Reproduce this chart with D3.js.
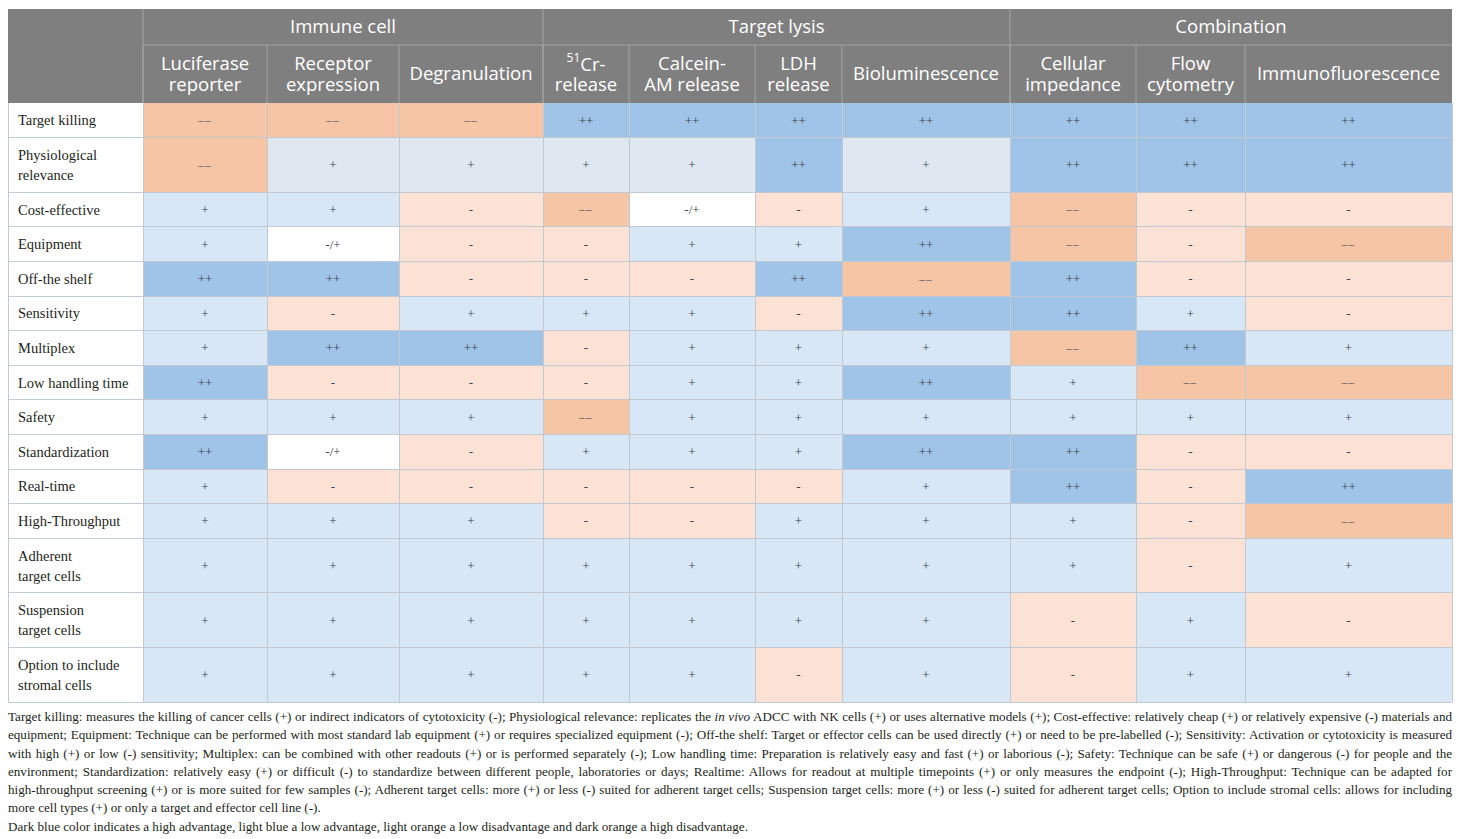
<!DOCTYPE html>
<html>
<head>
<meta charset="utf-8">
<script src="https://cdn.jsdelivr.net/npm/d3@7"></script>
<style>
    body { margin: 0; background: #fff; }
    #chart { position: relative; width: 1460px; height: 839px; overflow: hidden; }
    #note {
        position: absolute; left: 8px; top: 708px; width: 1444px;
        font-family: "Liberation Serif", "DejaVu Serif", serif;
        font-size: 13.1px; line-height: 18.3px; color: #231f20;
    }
    #note div { white-space: nowrap; }
    #note .j { text-align: justify; text-align-last: justify; }
</style>
</head>
<body>
<div id="chart"></div>
<script>
// ---- data ----
const groupNames = ['Immune cell', 'Target lysis', 'Combination'];
const groupSpans = [3, 4, 3];

const methods = [
    'Luciferase reporter', 'Receptor expression', 'Degranulation',
    '51Cr-release', 'Calcein-AM release', 'LDH release', 'Bioluminescence',
    'Cellular impedance', 'Flow cytometry', 'Immunofluorescence'
];
// header text as it wraps in the table ("^" marks the superscript)
const methodLines = [
    ['Luciferase', 'reporter'], ['Receptor', 'expression'], ['Degranulation'],
    ['^51Cr-', 'release'], ['Calcein-', 'AM release'], ['LDH', 'release'], ['Bioluminescence'],
    ['Cellular', 'impedance'], ['Flow', 'cytometry'], ['Immunofluorescence']
];

const criteria = [
    'Target killing', 'Physiological relevance', 'Cost-effective', 'Equipment',
    'Off-the shelf', 'Sensitivity', 'Multiplex', 'Low handling time', 'Safety',
    'Standardization', 'Real-time', 'High-Throughput', 'Adherent target cells',
    'Suspension target cells', 'Option to include stromal cells'
];
const criteriaLines = [
    ['Target killing'], ['Physiological', 'relevance'], ['Cost-effective'], ['Equipment'],
    ['Off-the shelf'], ['Sensitivity'], ['Multiplex'], ['Low handling time'], ['Safety'],
    ['Standardization'], ['Real-time'], ['High-Throughput'], ['Adherent', 'target cells'],
    ['Suspension', 'target cells'], ['Option to include', 'stromal cells']
];

// one row per criterion, one entry per method
const scores = [
    ['--', '--', '--', '++', '++', '++', '++', '++', '++', '++'],
    ['--', '+', '+', '+', '+', '++', '+', '++', '++', '++'],
    ['+', '+', '-', '--', '-/+', '-', '+', '--', '-', '-'],
    ['+', '-/+', '-', '-', '+', '+', '++', '--', '-', '--'],
    ['++', '++', '-', '-', '-', '++', '--', '++', '-', '-'],
    ['+', '-', '+', '+', '+', '-', '++', '++', '+', '-'],
    ['+', '++', '++', '-', '+', '+', '+', '--', '++', '+'],
    ['++', '-', '-', '-', '+', '+', '++', '+', '--', '--'],
    ['+', '+', '+', '--', '+', '+', '+', '+', '+', '+'],
    ['++', '-/+', '-', '+', '+', '+', '++', '++', '-', '-'],
    ['+', '-', '-', '-', '-', '-', '+', '++', '-', '++'],
    ['+', '+', '+', '-', '-', '+', '+', '+', '-', '--'],
    ['+', '+', '+', '+', '+', '+', '+', '+', '-', '+'],
    ['+', '+', '+', '+', '+', '+', '+', '-', '+', '-'],
    ['+', '+', '+', '+', '+', '-', '+', '-', '+', '+']
];

const levels = ['++', '+', '-/+', '-', '--'];
const levelColors = ['#9fc4e7', '#d8e7f6', '#ffffff', '#fbe2d5', '#f6c5a6'];

const footnoteLines = [
    'Target killing: measures the killing of cancer cells (+) or indirect indicators of cytotoxicity (-); Physiological relevance: replicates the <i>in vivo</i> ADCC with NK cells (+) or uses alternative models (+); Cost-effective: relatively cheap (+) or relatively expensive (-) materials and',
    'equipment; Equipment: Technique can be performed with most standard lab equipment (+) or requires specialized equipment (-); Off-the shelf: Target or effector cells can be used directly (+) or need to be pre-labelled (-); Sensitivity: Activation or cytotoxicity is measured',
    'with high (+) or low (-) sensitivity; Multiplex: can be combined with other readouts (+) or is performed separately (-); Low handling time: Preparation is relatively easy and fast (+) or laborious (-); Safety: Technique can be safe (+) or dangerous (-) for people and the',
    'environment; Standardization: relatively easy (+) or difficult (-) to standardize between different people, laboratories or days; Realtime: Allows for readout at multiple timepoints (+) or only measures the endpoint (-); High-Throughput: Technique can be adapted for',
    'high-throughput screening (+) or is more suited for few samples (-); Adherent target cells: more (+) or less (-) suited for adherent target cells; Suspension target cells: more (+) or less (-) suited for adherent target cells; Option to include stromal cells: allows for including',
    'more cell types (+) or only a target and effector cell line (-).',
    'Dark blue color indicates a high advantage, light blue a low advantage, light orange a low disadvantage and dark orange a high disadvantage.'
];

// ---- layout ----
const tableLeft = 8, tableTop = 9;
const groupH = 36, headH = 58, rowH = 34.6, rowH2 = 54.6;
const colW = [135, 124, 132, 144, 86, 126, 87, 168, 126, 109, 207];
const headerFont = '"Open Sans", "Noto Sans", sans-serif';
const bodyFont = '"Liberation Serif", "DejaVu Serif", serif';
const gridColor = '#c3c9d0';
const headGrid = '#a3a3a3';

const width = 1460, height = 839;
const tableW = d3.sum(colW);
const tableRight = tableLeft + tableW;

const colStarts = Array.from(d3.cumsum([0, ...colW])).map(v => v + tableLeft);
const x = d3.scaleOrdinal(methods, colStarts.slice(1, methods.length + 1));
const w = d3.scaleOrdinal(methods, colW.slice(1));

const bodyTop = tableTop + groupH + headH;
const rowHeights = criteriaLines.map(l => l.length > 1 ? rowH2 : rowH);
const rowStarts = Array.from(d3.cumsum([0, ...rowHeights])).map(v => v + bodyTop);
const y = d3.scaleOrdinal(criteria, rowStarts.slice(0, criteria.length));
const h = d3.scaleOrdinal(criteria, rowHeights);

const color = d3.scaleOrdinal(levels, levelColors);
// the physiological relevance row uses a greyer light blue in the source
const mutedPlus = '#dfe7f1';

const display = s => s === '--' ? '\u2013\u2013' : s;

const svg = d3.select('#chart')
    .append('svg')
    .attr('width', width)
    .attr('height', height)
    .style('position', 'absolute')
    .style('left', 0)
    .style('top', 0);

// ---- header ----
const head = svg.append('g');
head.append('rect')
    .attr('x', tableLeft).attr('y', tableTop)
    .attr('width', tableW).attr('height', groupH + headH)
    .attr('fill', '#7f7f7f');

// group headers
const groupStarts = Array.from(d3.cumsum([0, ...groupSpans]));
const groups = groupNames.map((name, i) => {
    const first = methods[groupStarts[i]];
    const last = methods[groupStarts[i + 1] - 1];
    return { name, x0: x(first), x1: x(last) + w(last) };
});

head.append('line')
    .attr('x1', x(methods[0])).attr('x2', tableRight)
    .attr('y1', tableTop + groupH).attr('y2', tableTop + groupH)
    .attr('stroke', headGrid).attr('stroke-width', 1);

head.selectAll('line.gsep')
    .data(groups)
    .join('line')
    .attr('class', 'gsep')
    .attr('x1', d => d.x0).attr('x2', d => d.x0)
    .attr('y1', tableTop).attr('y2', bodyTop)
    .attr('stroke', headGrid);

head.selectAll('text.group')
    .data(groups)
    .join('text')
    .attr('class', 'group')
    .attr('x', d => (d.x0 + d.x1) / 2)
    .attr('y', tableTop + groupH / 2)
    .attr('dy', '0.35em')
    .attr('text-anchor', 'middle')
    .attr('fill', '#fff')
    .style('font-family', headerFont)
    .style('font-size', '18.5px')
    .text(d => d.name);

// method headers
head.selectAll('line.msep')
    .data(methods)
    .join('line')
    .attr('class', 'msep')
    .attr('x1', d => x(d)).attr('x2', d => x(d))
    .attr('y1', tableTop + groupH).attr('y2', bodyTop)
    .attr('stroke', headGrid);

const mhead = head.selectAll('g.mh')
    .data(methods)
    .join('g')
    .attr('class', 'mh')
    .attr('transform', d => `translate(${x(d) + w(d) / 2},${tableTop + groupH + headH / 2})`);

mhead.each(function(d, i) {
    const lines = methodLines[i];
    const lh = 21;
    lines.forEach((line, k) => {
        const t = d3.select(this).append('text')
            .attr('y', (k - (lines.length - 1) / 2) * lh)
            .attr('dy', '0.35em')
            .attr('text-anchor', 'middle')
            .attr('fill', '#fff')
            .style('font-family', headerFont)
            .style('font-size', '18.5px');
        if (line.startsWith('^')) {
            const m = line.match(/^\^(\d+)(.*)$/);
            t.append('tspan').attr('dy', '-0.1em').style('font-size', '12px').text(m[1]);
            t.append('tspan').attr('dy', '0.45em').text(m[2]);
        } else {
            t.text(line);
        }
    });
});

// ---- body ----
const body = svg.append('g');

// row label cells
const rows = body.selectAll('g.row')
    .data(criteria)
    .join('g')
    .attr('class', 'row');

rows.append('rect')
    .attr('x', tableLeft)
    .attr('y', d => y(d))
    .attr('width', colW[0])
    .attr('height', d => h(d))
    .attr('fill', '#fff');

rows.each(function(d, i) {
    const lines = criteriaLines[i];
    const lh = 20;
    lines.forEach((line, k) => {
        d3.select(this).append('text')
            .attr('x', tableLeft + 10)
            .attr('y', y(d) + h(d) / 2 + (k - (lines.length - 1) / 2) * lh)
            .attr('dy', '0.35em')
            .attr('fill', '#231f20')
            .style('font-family', bodyFont)
            .style('font-size', '14.5px')
            .text(line);
    });
});

// score cells
const cells = criteria.flatMap((c, i) => methods.map((m, j) => ({ c, m, v: scores[i][j] })));

body.selectAll('rect.cell')
    .data(cells)
    .join('rect')
    .attr('class', 'cell')
    .attr('x', d => x(d.m))
    .attr('y', d => y(d.c))
    .attr('width', d => w(d.m))
    .attr('height', d => h(d.c))
    .attr('fill', d => (d.c === 'Physiological relevance' && d.v === '+') ? mutedPlus : color(d.v));

body.selectAll('text.cell')
    .data(cells)
    .join('text')
    .attr('class', 'cell')
    .attr('x', d => x(d.m) + w(d.m) / 2)
    .attr('y', d => y(d.c) + h(d.c) / 2)
    .attr('dy', '0.35em')
    .attr('text-anchor', 'middle')
    .attr('fill', '#3c4150')
    .style('font-family', bodyFont)
    .style('font-size', d => d.v === '--' ? '11px' : '13px')
    .style('letter-spacing', d => d.v === '--' ? '1.2px' : null)
    .text(d => display(d.v));

// grid lines
const bottom = rowStarts[criteria.length];
const grid = svg.append('g')
    .attr('stroke', gridColor)
    .attr('stroke-width', 1)
    .attr('shape-rendering', 'crispEdges');

grid.selectAll('line.h')
    .data(rowStarts.slice(1))
    .join('line')
    .attr('class', 'h')
    .attr('x1', tableLeft).attr('x2', tableRight)
    .attr('y1', d => d).attr('y2', d => d);

grid.selectAll('line.v')
    .data(colStarts)
    .join('line')
    .attr('class', 'v')
    .attr('x1', d => d).attr('x2', d => d)
    .attr('y1', bodyTop).attr('y2', bottom);

// ---- footnote ----
d3.select('#chart')
    .append('div')
    .attr('id', 'note')
    .selectAll('div')
    .data(footnoteLines)
    .join('div')
    .attr('class', (d, i) => i < 5 ? 'j' : null)
    .html(d => d);
</script>
</body>
</html>
